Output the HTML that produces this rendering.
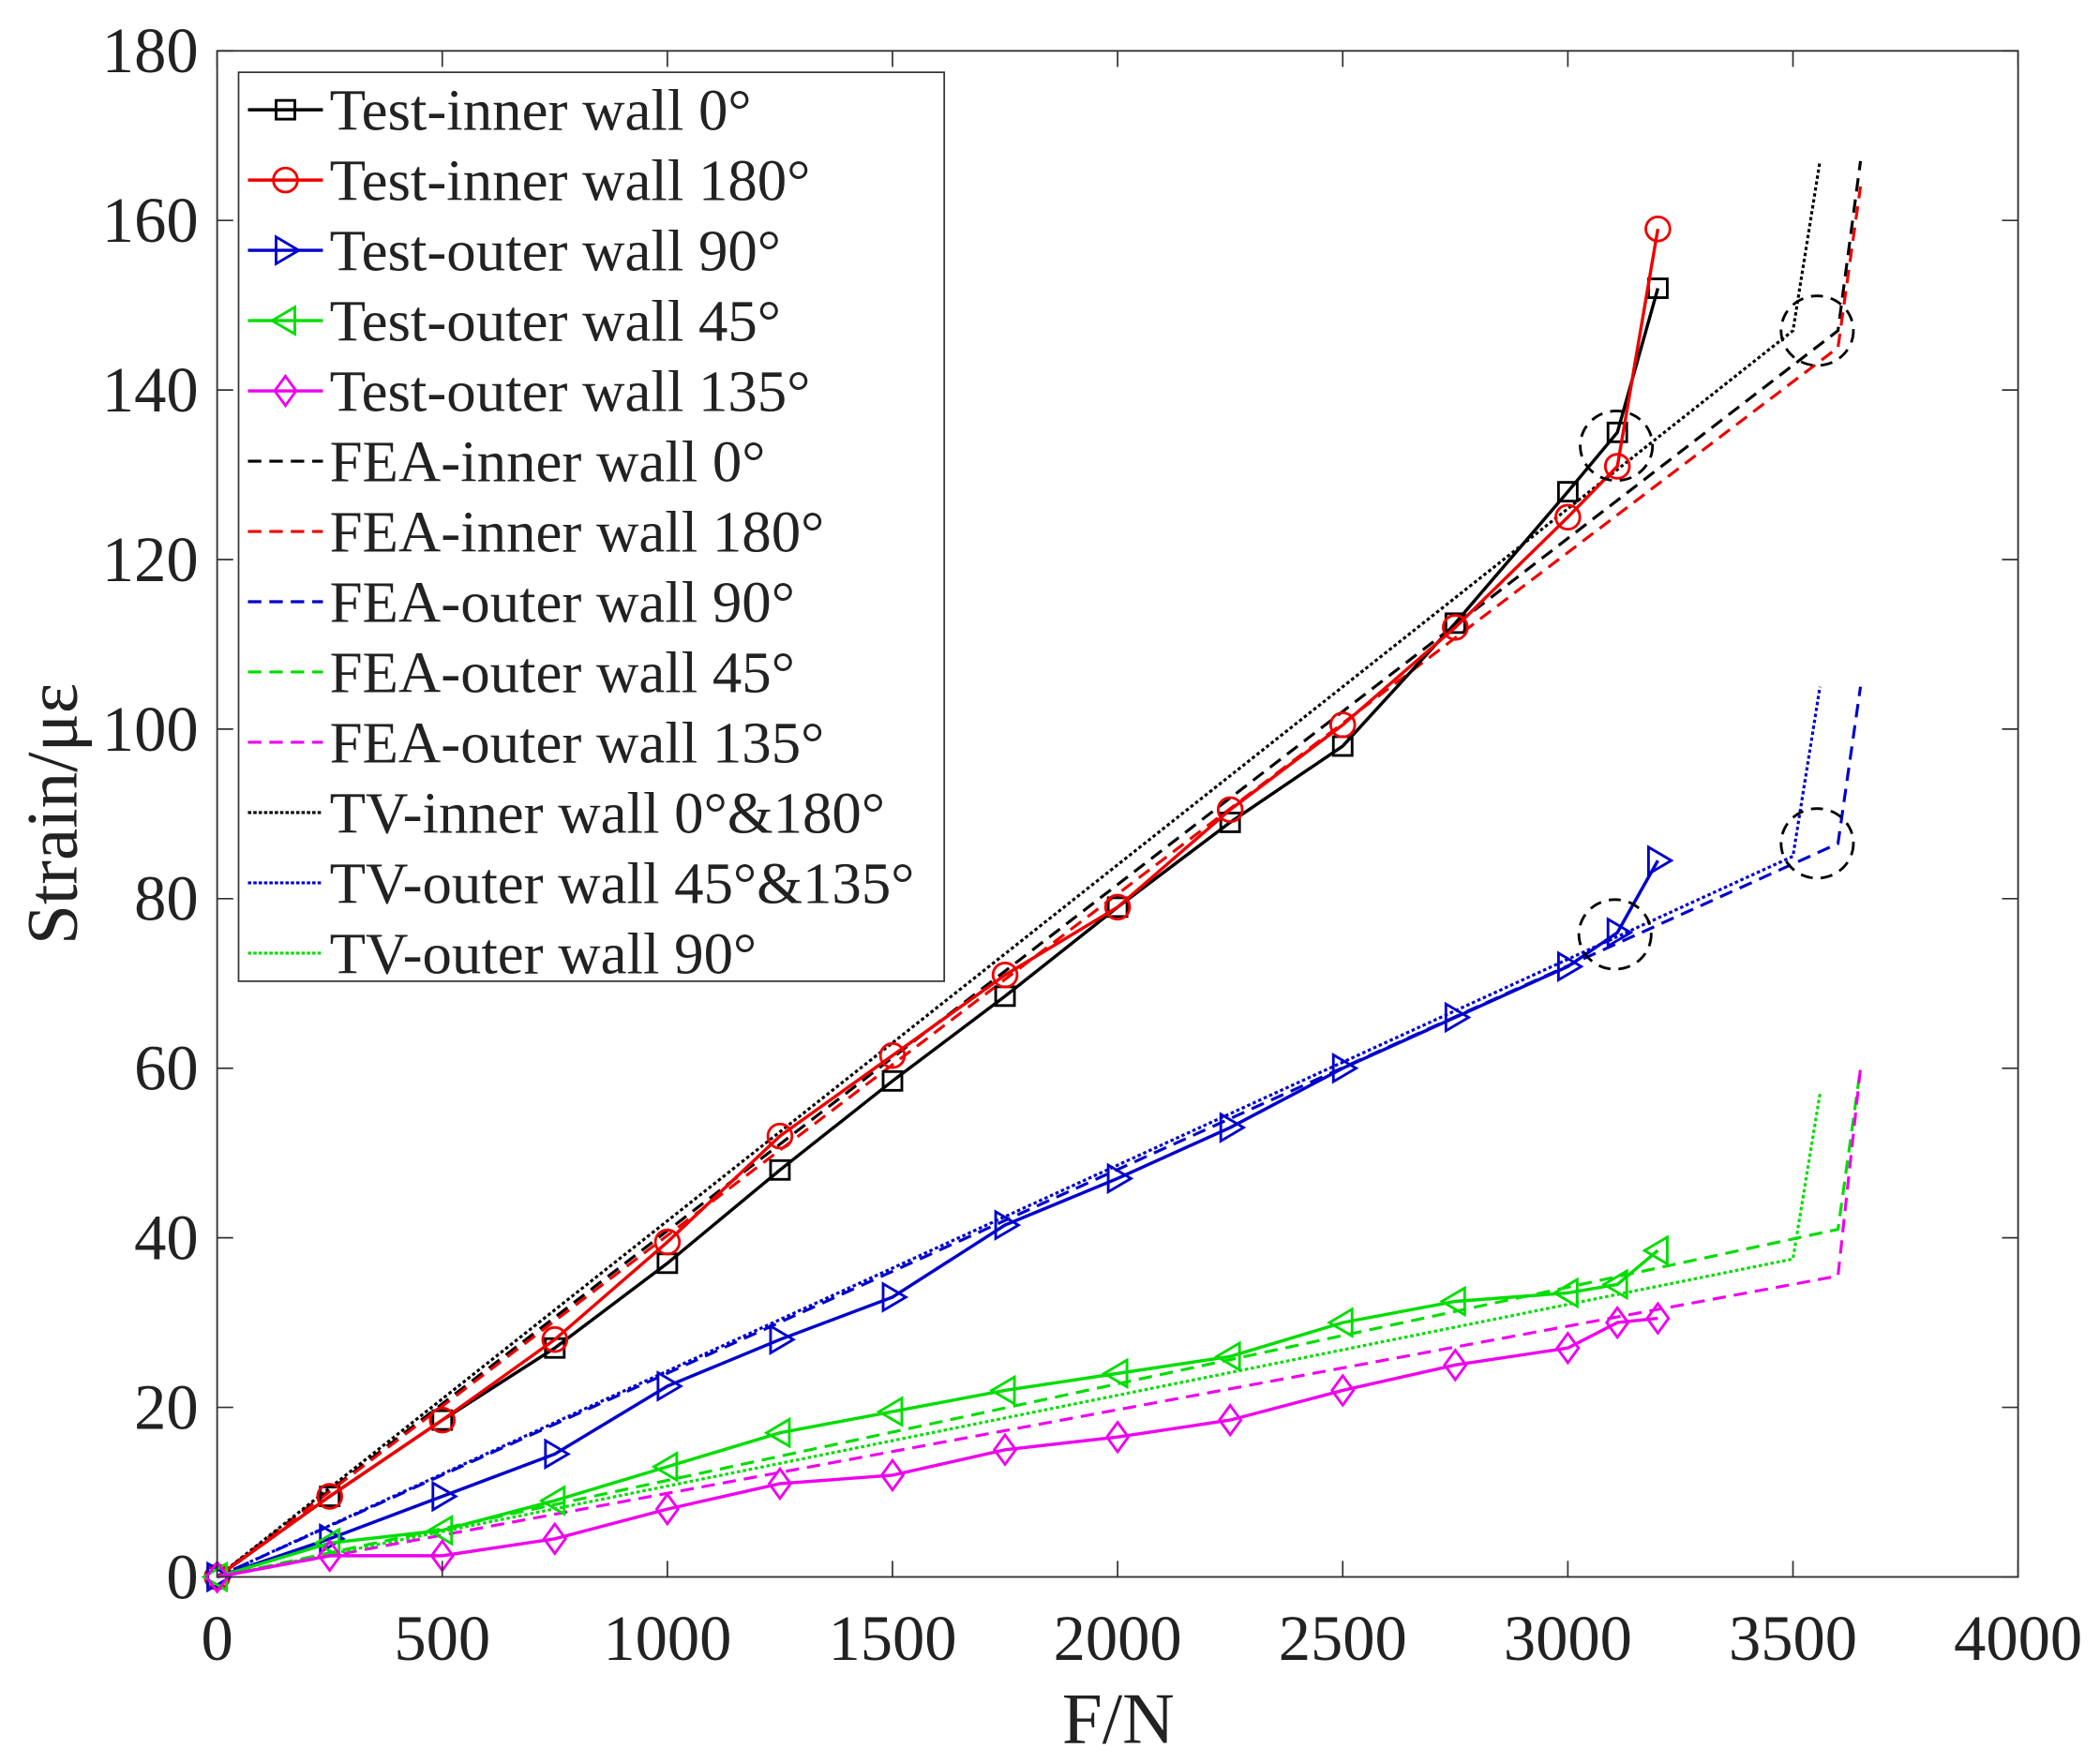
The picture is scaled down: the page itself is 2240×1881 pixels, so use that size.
<!DOCTYPE html>
<html><head><meta charset="utf-8"><style>
html,body{margin:0;padding:0;background:#fff;}
svg{display:block;}
text{font-family:"Liberation Serif",serif;fill:#222;}
</style></head><body>
<svg id="s" width="2240" height="1881" viewBox="0 0 1568 1317" xmlns="http://www.w3.org/2000/svg">
<rect x="0" y="0" width="1568" height="1317" fill="#fff"/>
<g id="plot"></g>
<g id="axes"></g>
<g id="leg"></g>
</svg>
<script>
const NS="http://www.w3.org/2000/svg";
const X0=162,X1=1507,Y0=1178,Y1=38;
const fx=f=>X0+(X1-X0)*f/4000, fy=v=>Y0-(Y0-Y1)*v/180;
function el(p,t,a,txt){const e=document.createElementNS(NS,t);for(const k in a)e.setAttribute(k,a[k]);if(txt!==undefined)e.textContent=txt;p.appendChild(e);return e;}
const plot=document.getElementById('plot'),axes=document.getElementById('axes'),leg=document.getElementById('leg');
const F=[0,250,500,750,1000,1250,1500,1750,2000,2250,2500,2750,3000,3110,3200];
const tests=[
 ['#000','sq',[0,9.5,18.5,27,37,48,58.5,68.5,79,89,98,112.5,128,135,152]],
 ['#e00','ci',[0,9.5,18.5,28,39.5,52,61.5,71,79,90.5,100.5,112,125,131,159]],
 ['#00c','tr',[0,4.5,9.5,14.5,22.5,28,33,41.5,47,53,60,66,72,76,84.5]],
 ['#0d0','tl',[0,4,5.5,9,13,17,19.5,22,24,26,30,32.5,33.5,34.5,38.5]],
 ['#e0e','di',[0,2.5,2.5,4.5,8,11,12,15,16.5,18.5,22,25,27,30,30.5]]];
const models=[
 ['#000','d',[[0,0],[3600,147],[3650,167]]],
 ['#e00','d',[[0,0],[3600,145],[3650,164]]],
 ['#00c','d',[[0,0],[3600,86.5],[3650,105]]],
 ['#0d0','d',[[0,0],[3600,41],[3650,60]]],
 ['#e0e','d',[[0,0],[3600,35.5],[3650,60]]],
 ['#000','o',[[0,0],[3500,147],[3560,167]]],
 ['#00c','o',[[0,0],[3500,85],[3560,105]]],
 ['#0d0','o',[[0,0],[3500,37.5],[3560,57]]]];
function marker(g,t,x,y,c){
 if(t==='sq')el(g,'rect',{x:x-7,y:y-7,width:14,height:14,fill:'none',stroke:c,'stroke-width':2});
 else if(t==='ci')el(g,'circle',{cx:x,cy:y,r:9,fill:'none',stroke:c,'stroke-width':2});
 else if(t==='tr')el(g,'polygon',{points:`${x-7},${y-10} ${x+10},${y} ${x-7},${y+10}`,fill:'none',stroke:c,'stroke-width':2});
 else if(t==='tl')el(g,'polygon',{points:`${x+7},${y-10} ${x-10},${y} ${x+7},${y+10}`,fill:'none',stroke:c,'stroke-width':2});
 else el(g,'polygon',{points:`${x},${y-11} ${x+8},${y} ${x},${y+11} ${x-8},${y}`,fill:'none',stroke:c,'stroke-width':2});}
models.forEach(m=>{el(plot,'polyline',{points:m[2].map(p=>fx(p[0])+','+fy(p[1])).join(' '),fill:'none',stroke:m[0],'stroke-width':2.2,'stroke-dasharray':m[1]==='d'?'10,6':'2.5,2'});});
tests.forEach(t=>{el(plot,'polyline',{points:F.map((f,i)=>fx(f)+','+fy(t[2][i])).join(' '),fill:'none',stroke:t[0],'stroke-width':2.4});
 F.forEach((f,i)=>marker(plot,t[1],fx(f),fy(t[2][i]),t[0]));});
[[1207,333],[1357,247],[1357,630],[1206,698]].forEach(c=>el(plot,'ellipse',{cx:c[0],cy:c[1],rx:27,ry:26,fill:'none',stroke:'#000','stroke-width':2,'stroke-dasharray':'9,6'}));
el(axes,'rect',{x:X0,y:Y1,width:X1-X0,height:Y0-Y1,fill:'none',stroke:'#333','stroke-width':1.3});
for(let f=0;f<=4000;f+=500){const x=fx(f);
 el(axes,'line',{x1:x,y1:Y0,x2:x,y2:Y0-12,stroke:'#333','stroke-width':1.2});
 el(axes,'line',{x1:x,y1:Y1,x2:x,y2:Y1+12,stroke:'#333','stroke-width':1.2});
 el(axes,'text',{x:x,y:1240,'text-anchor':'middle','font-size':48},f);}
for(let v=0;v<=180;v+=20){const y=fy(v);
 el(axes,'line',{x1:X0,y1:y,x2:X0+12,y2:y,stroke:'#333','stroke-width':1.2});
 el(axes,'line',{x1:X1,y1:y,x2:X1-12,y2:y,stroke:'#333','stroke-width':1.2});
 el(axes,'text',{x:148,y:y+16,'text-anchor':'end','font-size':48},v);}
el(axes,'text',{x:835,y:1302,'text-anchor':'middle','font-size':54},'F/N');
el(axes,'text',{x:0,y:0,'text-anchor':'middle','font-size':54,transform:'translate(57,608) rotate(-90)'},'Strain/με');
el(leg,'rect',{x:178,y:54,width:527,height:679,fill:'#fff',stroke:'#333','stroke-width':1.2});
const L=[['#000','sq','Test-inner wall 0°'],['#e00','ci','Test-inner wall 180°'],['#00c','tr','Test-outer wall 90°'],['#0d0','tl','Test-outer wall 45°'],['#e0e','di','Test-outer wall 135°'],
['#000','d','FEA-inner wall 0°'],['#e00','d','FEA-inner wall 180°'],['#00c','d','FEA-outer wall 90°'],['#0d0','d','FEA-outer wall 45°'],['#e0e','d','FEA-outer wall 135°'],
['#000','o','TV-inner wall 0°&180°'],['#00c','o','TV-outer wall 45°&135°'],['#0d0','o','TV-outer wall 90°']];
L.forEach((l,i)=>{const y=82+i*52.5;
 if(l[1]==='d'||l[1]==='o')el(leg,'line',{x1:185,y1:y,x2:241,y2:y,stroke:l[0],'stroke-width':2.2,'stroke-dasharray':l[1]==='d'?'10,6':'2.5,1.5'});
 else{el(leg,'line',{x1:185,y1:y,x2:241,y2:y,stroke:l[0],'stroke-width':2.4});marker(leg,l[1],213,y,l[0]);}
 el(leg,'text',{x:246,y:y+15,'font-size':44,fill:'#111'},l[2]);});
</script>
</body></html>
